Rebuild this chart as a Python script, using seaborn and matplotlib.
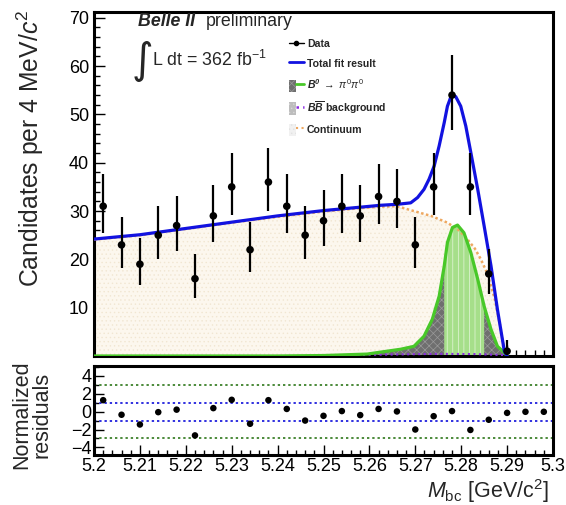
import numpy as np
import pandas as pd
import matplotlib
matplotlib.use("Agg")
import matplotlib.pyplot as plt
import seaborn as sns
from matplotlib.lines import Line2D
from matplotlib.patches import Patch
from matplotlib.legend_handler import HandlerTuple
from matplotlib.ticker import MultipleLocator

# ---------------- data ----------------
bin_centers = [5.202, 5.206, 5.210, 5.214, 5.218, 5.222, 5.226, 5.230, 5.234, 5.238,
               5.242, 5.246, 5.250, 5.254, 5.258, 5.262, 5.266, 5.270, 5.274, 5.278,
               5.282, 5.286, 5.290, 5.294, 5.298]
counts = [31, 23, 19, 25, 27, 16, 29, 35, 22, 36,
          31, 25, 28, 31, 29, 33, 32, 23, 35, 54,
          35, 17, 1, 0, 0]
err_low = [5.5, 4.8, 4.3, 5.0, 5.2, 4.0, 5.4, 5.9, 4.7, 6.0,
           5.5, 5.0, 5.3, 5.5, 5.4, 5.7, 5.6, 4.8, 5.9, 7.3,
           5.9, 4.1, 0.8, 0.0, 0.0]
err_high = [6.6, 5.8, 5.4, 6.0, 6.2, 5.1, 6.4, 7.0, 5.7, 7.1,
            6.6, 6.0, 6.3, 6.6, 6.4, 6.8, 6.7, 5.8, 7.0, 8.4,
            7.0, 5.2, 2.3, 0.0, 0.0]
residuals = [1.28, -0.35, -1.44, -0.06, 0.22, -2.66, 0.39, 1.32, -1.36, 1.28,
             0.30, -1.00, -0.47, 0.06, -0.39, 0.30, 0.02, -2.00, -0.51, 0.06,
             -2.05, -0.91, -0.14, -0.02, -0.02]

total_x = [5.200, 5.210, 5.220, 5.230, 5.240, 5.250, 5.258, 5.2625, 5.2661, 5.2690,
           5.2705, 5.2719, 5.2730, 5.2741, 5.2752, 5.2763, 5.2770, 5.2777, 5.2783, 5.2788,
           5.2799, 5.2810, 5.2821, 5.2836, 5.2850, 5.2865, 5.2879, 5.2894, 5.2900]
total_y = [24.2, 25.1, 26.4, 27.7, 29.0, 30.1, 30.8, 31.2, 31.4, 31.7,
           32.8, 34.5, 36.6, 39.3, 43.5, 48.3, 51.7, 53.5, 53.9, 53.7,
           51.7, 47.6, 42.1, 34.5, 26.9, 18.6, 9.6, 1.0, 0.0]

cont_x = [5.200, 5.210, 5.220, 5.230, 5.240, 5.250, 5.258, 5.2625, 5.2660, 5.2697,
          5.2734, 5.2770, 5.2795, 5.2814, 5.2830, 5.2843, 5.2855, 5.2865, 5.2873, 5.2879,
          5.2885, 5.2890, 5.2895, 5.2900]
cont_y = [24.1, 25.0, 26.3, 27.6, 28.8, 29.9, 30.6, 30.9, 31.0, 30.0,
          29.0, 27.6, 26.0, 24.1, 22.2, 20.0, 17.5, 14.5, 11.8, 9.0,
          6.2, 3.4, 0.9, 0.0]

sig_x = [5.200, 5.240, 5.250, 5.2595, 5.2624, 5.2668, 5.2697, 5.2719, 5.2737, 5.2752,
         5.2763, 5.2770, 5.2781, 5.2792, 5.2806, 5.2821, 5.2836, 5.2850, 5.2865, 5.2879,
         5.2894, 5.2900]
sig_y = [0.0, 0.0, 0.1, 0.4, 0.8, 1.4, 2.0, 4.1, 7.6, 12.4,
         18.6, 23.5, 26.6, 27.1, 25.5, 21.4, 15.9, 10.3, 5.5, 2.0,
         0.7, 0.0]

bb_x = [5.255, 5.265, 5.275, 5.283, 5.289, 5.290]
bb_y = [0.2, 0.3, 0.45, 0.4, 0.2, 0.0]

signal_window = (5.2760, 5.2852)

# ---------------- style ----------------
sns.set_theme(style="ticks")
plt.rcParams["font.family"] = ["Liberation Sans", "DejaVu Sans"]
plt.rcParams["mathtext.fontset"] = "custom"
plt.rcParams["mathtext.rm"] = "Liberation Sans"
plt.rcParams["mathtext.it"] = "Liberation Sans:italic"
plt.rcParams["mathtext.bf"] = "Liberation Sans:bold:italic"
plt.rcParams["hatch.linewidth"] = 0.5

BLUE = "#1212e0"
GREEN = "#48c828"
ORANGE = "#eea860"
PURPLE = "#8a2be2"

data = pd.DataFrame({"x": bin_centers, "n": counts, "lo": err_low, "hi": err_high, "res": residuals})
shown = data[data["n"] > 0]
total = pd.DataFrame({"x": total_x, "y": total_y})
cont = pd.DataFrame({"x": cont_x, "y": cont_y})
sig = pd.DataFrame({"x": sig_x, "y": sig_y})
bb = pd.DataFrame({"x": bb_x, "y": bb_y})

fig = plt.figure(figsize=(5.66, 5.05), dpi=100)
W, H = 566, 505
ax = fig.add_axes([94 / W, 1 - 356 / H, 459 / W, 344 / H])
axr = fig.add_axes([94 / W, 1 - 455 / H, 459 / W, 89 / H])

# ---- main panel ----
ax.fill_between(cont["x"], 0, cont["y"], facecolor="#fcf7ee", edgecolor="#f1e6d2",
                hatch="....", linewidth=0, zorder=1)
ax.fill_between(sig["x"], 0, sig["y"], facecolor="#6f6f6f", edgecolor="#9a9a9a",
                hatch="xxxx", linewidth=0, zorder=2)
sx = np.asarray(sig_x)
mask = (sx >= signal_window[0]) & (sx <= signal_window[1])
ax.fill_between(sig["x"], 0, sig["y"], where=mask, facecolor="#a6df8a", edgecolor="#e6f7dc",
                hatch="|||", linewidth=0, zorder=2.5)
sns.lineplot(data=bb, x="x", y="y", ax=ax, color=PURPLE, lw=1.5, ls=":", estimator=None, sort=False, zorder=3)
sns.lineplot(data=cont, x="x", y="y", ax=ax, color=ORANGE, lw=1.8, ls=(0, (1, 1)), estimator=None, sort=False, zorder=3)
sns.lineplot(data=sig, x="x", y="y", ax=ax, color=GREEN, lw=2.3, estimator=None, sort=False, zorder=4)
sns.lineplot(data=total, x="x", y="y", ax=ax, color=BLUE, lw=2.3, estimator=None, sort=False, zorder=5)
ax.errorbar(shown["x"], shown["n"], yerr=[shown["lo"], shown["hi"]], fmt="none",
            ecolor="black", elinewidth=1.6, capsize=0, zorder=6)
sns.scatterplot(data=shown, x="x", y="n", ax=ax, color="black", s=30, edgecolor="none", zorder=7)

ax.set_xlim(5.2, 5.3)
ax.set_ylim(0, 71.2)
ax.yaxis.set_major_locator(MultipleLocator(10))
ax.yaxis.set_minor_locator(MultipleLocator(2))
ax.xaxis.set_major_locator(MultipleLocator(0.01))
ax.xaxis.set_minor_locator(MultipleLocator(0.002))
ax.set_yticks([10, 20, 30, 40, 50, 60, 70])
ax.tick_params(which="both", direction="in", top=False, right=False, labelbottom=False,
               width=1.0, colors="black", labelsize=13)
ax.tick_params(which="major", length=8)
ax.tick_params(which="minor", length=4)
ax.set_xlabel("")
ax.set_ylabel("Candidates per 4 MeV/$c^2$", fontsize=17.8, loc="top")
ax.yaxis.set_label_coords(-0.105, 1.006)
for sp in ax.spines.values():
    sp.set_linewidth(2.2)
    sp.set_color("black")

# legend
h_data = Line2D([0], [0], color="black", marker="o", markersize=3, lw=1)
h_tot = Line2D([0], [0], color=BLUE, lw=2)
h_sig = (Patch(facecolor="#6f6f6f", edgecolor="#9a9a9a", hatch="xxxx", lw=0),
         Line2D([0], [0], color=GREEN, lw=2))
h_bb = (Patch(facecolor="#bdbdbd", edgecolor="#d6d6d6", hatch="....", lw=0),
        Line2D([0], [0], color=PURPLE, lw=1.8, ls=":"))
h_cont = (Patch(facecolor="#f1f1f1", edgecolor="#e2e2e2", hatch="....", lw=0),
          Line2D([0], [0], color=ORANGE, lw=1.5, ls=":"))
leg = ax.legend([h_data, h_tot, h_sig, h_bb, h_cont],
                ["Data", "Total fit result", r"$\mathbf{B^0}$ $\rightarrow$ $\pi^0\pi^0$",
                 r"$\mathbf{B\overline{B}}$ background", "Continuum"],
                handler_map={tuple: HandlerTuple(ndivide=None, pad=0)},
                loc="upper left", bbox_to_anchor=(0.425, 0.925), frameon=False,
                prop={"weight": "bold", "size": 7.6}, handlelength=1.4, handleheight=1.4,
                handletextpad=0.3, labelspacing=0.72, borderpad=0, borderaxespad=0)

fig.text(138 / W, 1 - 21 / H, "Belle II", fontsize=12.8, fontweight="bold", style="italic", va="center")
fig.text(206 / W, 1 - 21 / H, "preliminary", fontsize=12.8, va="center")
fig.text(132 / W, 1 - 61 / H, "\u222b", fontsize=30, family=["DejaVu Sans"], va="center")
fig.text(152 / W, 1 - 60 / H, "L dt = 362 fb$^{-1}$", fontsize=12.8, va="center")

# ---- residual panel ----
for lvl, col in [(3, "#4b8a3a"), (-3, "#4b8a3a"), (1, "#3030e0"), (-1, "#3030e0")]:
    axr.axhline(lvl, color=col, lw=1.4, ls=(0, (1.2, 1.5)), zorder=1)
sns.scatterplot(data=data, x="x", y="res", ax=axr, color="black", s=22, edgecolor="none", zorder=3)
axr.set_xlim(5.2, 5.3)
axr.set_ylim(-4.85, 5.1)
axr.set_yticks([-4, -2, 0, 2, 4])
axr.set_yticklabels(["\u22124", "\u22122", "0", "2", "4"])
axr.yaxis.set_minor_locator(MultipleLocator(1))
axr.xaxis.set_minor_locator(MultipleLocator(0.002))
axr.set_xticks([5.2 + 0.01 * i for i in range(11)])
axr.set_xticklabels(["5.2", "5.21", "5.22", "5.23", "5.24", "5.25", "5.26", "5.27", "5.28", "5.29", "5.3"])
axr.tick_params(which="both", direction="in", top=False, right=False, width=1.0,
                colors="black", labelsize=13, pad=2)
axr.tick_params(which="major", length=7)
axr.tick_params(which="minor", length=3.5)
axr.set_ylabel("Normalized\nresiduals", fontsize=15.5, linespacing=0.95)
axr.yaxis.set_label_coords(-0.09, 0.45)
axr.set_xlabel(r"$M_{\rm bc}$ [GeV/c$^2$]", fontsize=15.5, loc="right")
axr.xaxis.set_label_coords(0.99, -0.245)
for sp in axr.spines.values():
    sp.set_linewidth(2.2)
    sp.set_color("black")

fig.savefig("out.png", dpi=100)
